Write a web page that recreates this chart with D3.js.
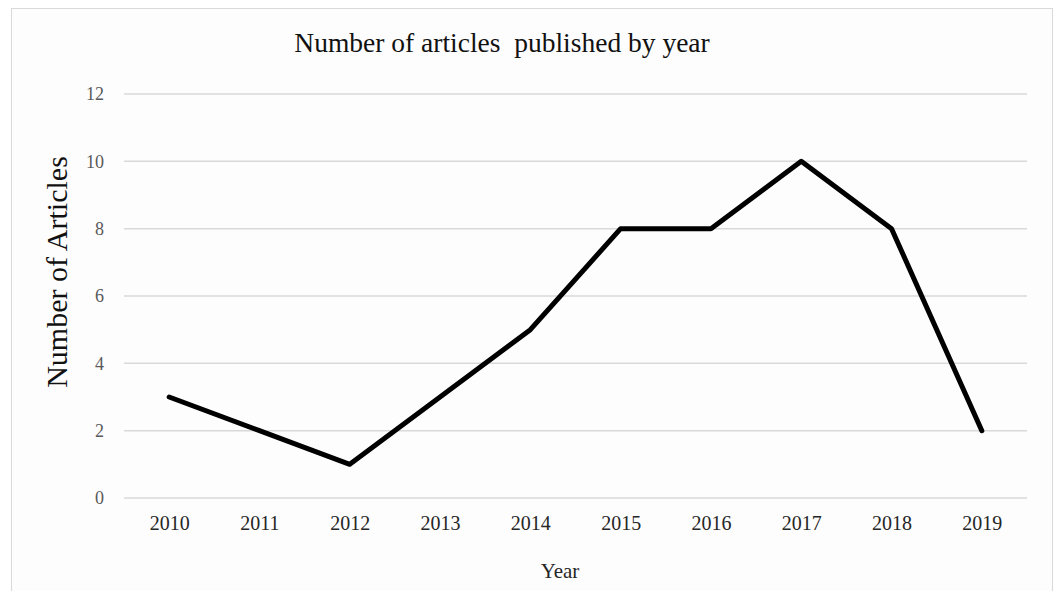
<!DOCTYPE html>
<html>
<head>
<meta charset="utf-8">
<script src="https://cdn.jsdelivr.net/npm/d3@7"></script>
<style>
  body { margin: 0; background: #fff; }
  text { font-family: "Liberation Serif", "Times New Roman", serif; }
</style>
</head>
<body>
<div class="container"></div>
<script>
var years = ['2010','2011','2012','2013','2014','2015','2016','2017','2018','2019'];
var articles = [3, 2, 1, 3, 5, 8, 8, 10, 8, 2];
var yTicks = [0, 2, 4, 6, 8, 10, 12];

var W = 1057, H = 591,
    margin = { top: 94, right: 30, bottom: 93, left: 124 },
    width = 1027 - margin.left,
    height = 498 - margin.top;

var svg = d3.select('.container')
  .append('svg')
  .attr('width', W)
  .attr('height', H);

// outer frame
svg.append('rect')
  .attr('x', 11.5).attr('y', 8.5)
  .attr('width', 1041).attr('height', 600)
  .attr('fill', '#fdfdfd')
  .attr('stroke', '#d9d9d9');

var g = svg.append('g').attr('transform', `translate(${margin.left}, ${margin.top})`);

var xScale = d3.scalePoint()
  .domain(years)
  .range([0, width])
  .padding(0.5);

var yScale = d3.scaleLinear()
  .domain([0, 12])
  .range([height, 0]);

// gridlines
g.selectAll('.grid')
  .data(yTicks)
  .enter()
  .append('line')
  .attr('x1', 0).attr('x2', width)
  .attr('y1', d => yScale(d)).attr('y2', d => yScale(d))
  .attr('stroke', '#d9d9d9')
  .attr('stroke-width', 1.5);

var yAxis = d3.axisLeft(yScale).tickValues(yTicks).tickSize(0).tickPadding(20);
g.append('g').call(yAxis)
  .call(a => a.select('.domain').remove())
  .selectAll('text')
  .attr('fill', '#595959')
  .style('font-size', '18px');

var xAxis = d3.axisBottom(xScale).tickSize(0).tickPadding(18);
g.append('g')
  .attr('transform', `translate(0, ${height})`)
  .call(xAxis)
  .call(a => a.select('.domain').remove())
  .selectAll('text')
  .attr('fill', '#262626')
  .style('font-size', '20px');

var line = d3.line()
  .x((d, i) => xScale(years[i]))
  .y(d => yScale(d));

g.append('path')
  .datum(articles)
  .attr('d', line)
  .attr('fill', 'none')
  .attr('stroke', '#000')
  .attr('stroke-width', 5)
  .attr('stroke-linejoin', 'round')
  .attr('stroke-linecap', 'round');

svg.append('text')
  .attr('x', 502).attr('y', 52)
  .attr('xml:space', 'preserve')
  .style('white-space', 'pre')
  .style('text-anchor', 'middle')
  .style('font-size', '27.5px')
  .attr('fill', '#111')
  .text('Number of articles  published by year');

svg.append('text')
  .attr('transform', 'translate(67, 272) rotate(-90)')
  .style('text-anchor', 'middle')
  .style('font-size', '30px')
  .attr('fill', '#111')
  .text('Number of Articles');

svg.append('text')
  .attr('x', 560).attr('y', 578)
  .style('text-anchor', 'middle')
  .style('font-size', '21px')
  .attr('fill', '#262626')
  .text('Year');
</script>
</body>
</html>
